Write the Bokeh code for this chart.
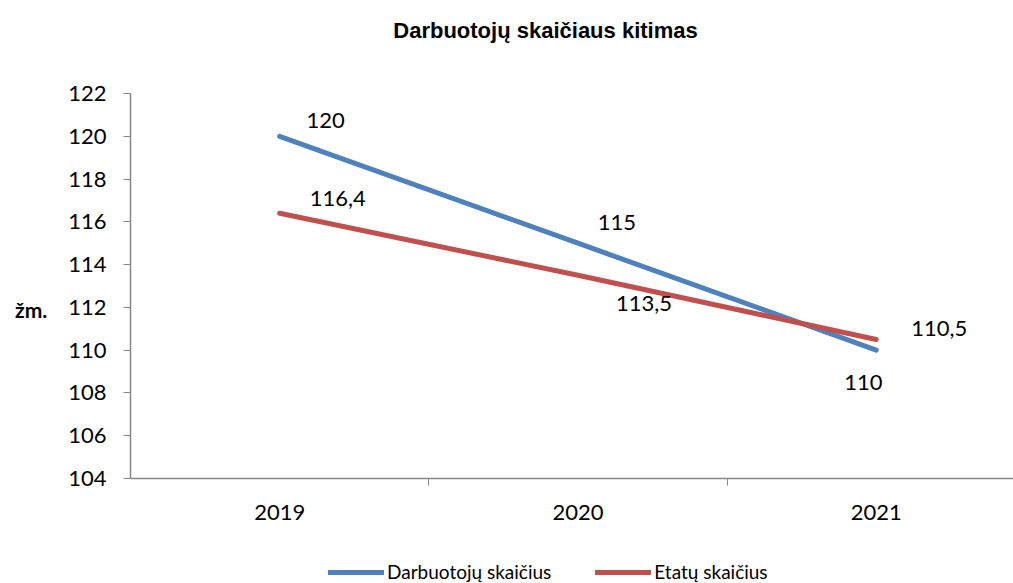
from bokeh.plotting import figure
from bokeh.layouts import column
from bokeh.models import (ColumnDataSource, FixedTicker, Legend, LegendItem, Range1d, Label)
from bokeh.core.properties import value
from bokeh.embed import file_html
from bokeh.resources import INLINE

title_text = "Darbuotojų skaičiaus kitimas"
years = ["2019", "2020", "2021"]
darbuotoju = [120, 115, 110]
etatu = [116.4, 113.5, 110.5]
darb_labels = ["120", "115", "110"]
etatu_labels = ["116,4", "113,5", "110,5"]
y_ticks = [104, 106, 108, 110, 112, 114, 116, 118, 120, 122]

# label offsets (pixels) for the data labels
darb_dx = [46, 39, -13]
darb_dy = [-16, -21, 32]
etatu_dx = [58, 66, 63]
etatu_dy = [-15, 28, -11]

BLUE = "#4F81BD"
RED = "#C0504D"
AXIS = "#868686"
FONT = "Lato"

xs = list(range(len(years)))

# title strip
top = figure(width=1013, height=50, output_backend="svg", toolbar_location=None,
             x_range=Range1d(130, 1013), y_range=Range1d(0, 50), x_axis_type=None, y_axis_type=None,
             min_border_left=130, min_border_right=0, min_border_top=0, min_border_bottom=0)
top.outline_line_color = None
top.grid.visible = False
top.add_layout(Label(x=545, y=20, text=title_text, text_font="Liberation Sans",
                     text_font_size="22px", text_font_style="bold", text_color="black",
                     text_align="center", text_baseline="middle"))

p = figure(width=1013, height=503, output_backend="svg", toolbar_location=None,
           x_range=Range1d(-0.5, 2.46), y_range=Range1d(104, 122),
           min_border_left=130, min_border_right=0, min_border_top=43, min_border_bottom=75)
p.outline_line_color = None
p.grid.visible = False
p.background_fill_color = "white"
p.border_fill_color = "white"

r1 = p.line(xs, darbuotoju, line_color=BLUE, line_width=5, line_cap="round")
r2 = p.line(xs, etatu, line_color=RED, line_width=5, line_cap="round")

src1 = ColumnDataSource(dict(x=xs, y=darbuotoju, t=darb_labels, dx=darb_dx, dy=darb_dy))
src2 = ColumnDataSource(dict(x=xs, y=etatu, t=etatu_labels, dx=etatu_dx, dy=etatu_dy))
for s in (src1, src2):
    p.text(x="x", y="y", text="t", x_offset="dx", y_offset="dy", source=s,
           text_font=value(FONT), text_font_size="22px", text_color="black",
           text_align="center", text_baseline="middle")

# x axis
p.xaxis.ticker = FixedTicker(ticks=xs, minor_ticks=[0.5, 1.5])
p.xaxis.major_label_overrides = {i: y for i, y in enumerate(years)}
p.xaxis.major_tick_out = 0
p.xaxis.major_tick_in = 0
p.xaxis.minor_tick_out = 7
p.xaxis.minor_tick_in = 0
p.xaxis.minor_tick_line_color = AXIS
p.xaxis.axis_line_color = AXIS
p.xaxis.axis_line_width = 1.5
p.xaxis.major_label_text_font = FONT
p.xaxis.major_label_text_font_size = "22px"
p.xaxis.major_label_text_color = "black"
p.xaxis.major_label_standoff = 19

# y axis
p.yaxis.ticker = FixedTicker(ticks=y_ticks, minor_ticks=[])
p.yaxis.major_tick_out = 7
p.yaxis.major_tick_in = 0
p.yaxis.major_tick_line_color = AXIS
p.yaxis.axis_line_color = AXIS
p.yaxis.axis_line_width = 1.5
p.yaxis.major_label_text_font = FONT
p.yaxis.major_label_text_font_size = "22px"
p.yaxis.major_label_text_color = "black"
p.yaxis.major_label_standoff = 17
p.yaxis.axis_label = "\nžm."
p.yaxis.axis_label_orientation = "horizontal"
p.yaxis.axis_label_text_font = FONT
p.yaxis.axis_label_text_font_size = "21px"
p.yaxis.axis_label_text_font_style = "bold"
p.yaxis.axis_label_text_color = "black"
p.yaxis.axis_label_text_line_height = 1.85
p.yaxis.axis_label_standoff = 18

# legend strip below the chart
leg = figure(width=1013, height=30, output_backend="svg", toolbar_location=None,
             x_range=Range1d(0, 1), y_range=Range1d(0, 1), x_axis_type=None, y_axis_type=None,
             min_border_left=130, min_border_right=0, min_border_top=0, min_border_bottom=0)
leg.outline_line_color = None
leg.grid.visible = False
l1 = leg.line([float("nan")] * 2, [float("nan")] * 2, line_color=BLUE, line_width=5, line_cap="round")
l2 = leg.line([float("nan")] * 2, [float("nan")] * 2, line_color=RED, line_width=5, line_cap="round")
legend = Legend(items=[LegendItem(label="Darbuotojų skaičius", renderers=[l1]),
                       LegendItem(label="Etatų skaičius", renderers=[l2])],
                location=(198, 0), orientation="horizontal",
                glyph_width=56, glyph_height=20, label_standoff=3, spacing=44,
                padding=0, margin=0, border_line_color=None, background_fill_alpha=0,
                label_text_font=FONT, label_text_font_size="19px", label_text_color="black")
leg.add_layout(legend, "center")

open("out.html", "w").write(file_html(column(top, p, leg, spacing=0), INLINE))
